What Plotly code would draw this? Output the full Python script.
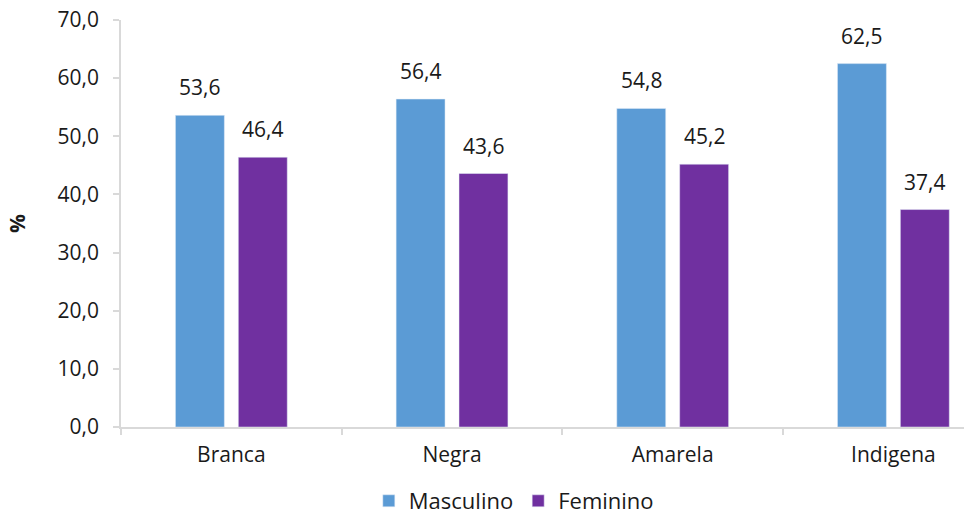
import plotly.graph_objects as go

categorias = ["Branca", "Negra", "Amarela", "Indigena"]
masculino = [53.6, 56.4, 54.8, 62.5]
feminino = [46.4, 43.6, 45.2, 37.4]
y_ticks = [0, 10, 20, 30, 40, 50, 60, 70]

AZUL = "#5B9BD5"
ROXO = "#7030A0"
EIXO = "#D9D9D9"
FONTE = "Open Sans"
TAM = 21

fig = go.Figure()
fig.add_trace(go.Bar(name="Masculino", x=categorias, y=masculino, marker_color=AZUL))
fig.add_trace(go.Bar(name="Feminino", x=categorias, y=feminino, marker_color=ROXO))

# value labels above each bar
desloc = 0.1425
for i, (m, f) in enumerate(zip(masculino, feminino)):
    for dx, v in ((-desloc, m), (desloc, f)):
        fig.add_annotation(
            x=i + dx, y=v, xref="x", yref="y",
            text=f"{v:.1f}".replace(".", ","),
            showarrow=False, yanchor="bottom", yshift=12,
            font=dict(family=FONTE, size=TAM, color="#1a1a1a"),
        )

fig.update_layout(
    width=964, height=522,
    margin=dict(l=121, r=0, t=20, b=95, autoexpand=False),
    paper_bgcolor="white", plot_bgcolor="white",
    barmode="group", bargap=0.43, bargroupgap=0.222,
    separators=",.",
    font=dict(family=FONTE, size=TAM, color="#1a1a1a"),
    showlegend=True,
    legend=dict(orientation="h", xref="container", x=0.533, xanchor="center",
                yref="container", y=0.0, yanchor="bottom",
                font=dict(size=22), itemwidth=30, traceorder="normal"),
)
fig.update_xaxes(
    range=[-0.5, 3.32], showline=True, linecolor=EIXO, linewidth=1.5,
    ticks="outside", tickson="boundaries", ticklen=6, tickcolor=EIXO, tickwidth=1.5,
    showgrid=False, ticklabelstandoff=8,
)
fig.update_yaxes(
    range=[0, 70], tickvals=y_ticks, tickformat=".1f",
    showline=True, linecolor=EIXO, linewidth=1.5,
    ticks="outside", ticklen=6, tickcolor=EIXO, tickwidth=1.5,
    showgrid=False, zeroline=False, ticklabelstandoff=10,
    title=dict(text="<b>%</b>", standoff=26, font=dict(size=TAM)),
)

fig.write_html("out.html")
